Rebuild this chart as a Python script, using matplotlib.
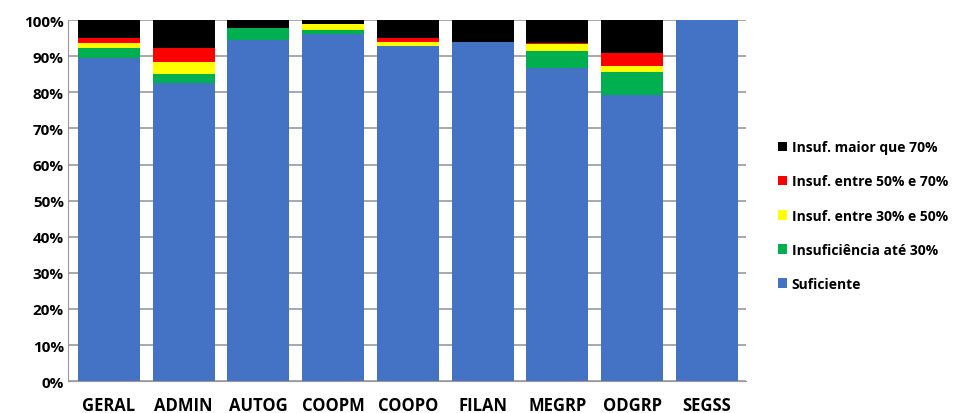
import numpy as np
import matplotlib.pyplot as plt
from matplotlib.ticker import PercentFormatter

categories = ['GERAL', 'ADMIN', 'AUTOG', 'COOPM', 'COOPO', 'FILAN', 'MEGRP', 'ODGRP', 'SEGSS']
suficiente = [89.4, 82.5, 94.5, 96.1, 92.9, 93.8, 86.8, 79.3, 100.0]
ate30 = [2.8, 2.6, 3.4, 1.1, 0.0, 0.0, 4.7, 6.4, 0.0]
entre30_50 = [1.4, 3.3, 0.0, 1.6, 0.9, 0.0, 1.8, 1.5, 0.0]
entre50_70 = [1.4, 3.8, 0.0, 0.0, 1.2, 0.0, 0.4, 3.8, 0.0]
maior70 = [5.0, 7.8, 2.1, 1.2, 5.0, 6.2, 6.3, 9.0, 0.0]

series = [
    ('Suficiente', suficiente, '#4472C4'),
    ('Insuficiência até 30%', ate30, '#00B050'),
    ('Insuf. entre 30% e 50%', entre30_50, '#FFFF00'),
    ('Insuf. entre 50% e 70%', entre50_70, '#FF0000'),
    ('Insuf. maior que 70%', maior70, '#000000'),
]

plt.rcParams['font.family'] = ['Open Sans', 'DejaVu Sans']

fig = plt.figure(figsize=(9.6, 4.14), dpi=100)
ax = fig.add_axes([68 / 960, 0.077, (746 - 68) / 960, 0.872])

x = np.arange(len(categories))
bottom = np.zeros(len(categories))
handles = []
for name, vals, color in series:
    vals = np.array(vals)
    b = ax.bar(x, vals, 0.83, bottom=bottom, color=color, label=name, zorder=2)
    handles.append(b)
    bottom += vals

ax.set_ylim(0, 100)
ax.set_xlim(-0.548, 8.522)
ax.set_yticks(np.arange(0, 101, 10))
ax.yaxis.set_major_formatter(PercentFormatter(decimals=0))
ax.grid(axis='y', color='#999999', linewidth=1.2, zorder=0)
ax.set_xticks(x)
ax.set_xticklabels(categories, fontweight='bold', fontsize=12)
for lab in ax.get_yticklabels():
    lab.set_fontweight('bold')
    lab.set_fontsize(11)
ax.tick_params(axis='y', length=0, pad=3)
ax.tick_params(axis='x', length=0, pad=11)
for s in ['top', 'right']:
    ax.spines[s].set_visible(False)
ax.spines['left'].set_color('#999999')
ax.spines['bottom'].set_color('#999999')

leg = fig.legend(handles[::-1], [s[0] for s in series][::-1],
                 loc='center left', bbox_to_anchor=(0.797, 0.477),
                 frameon=False, prop={'weight': 'bold', 'size': 10},
                 handlelength=0.7, handleheight=0.7, handletextpad=0.3,
                 labelspacing=1.45)

fig.savefig('out.png', dpi=100)
